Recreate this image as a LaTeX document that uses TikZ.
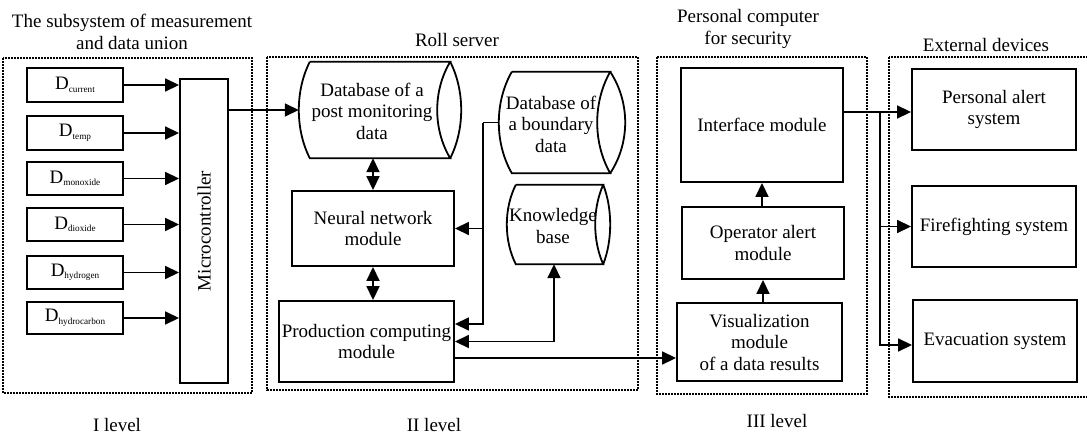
\documentclass[tikz,border=0pt]{standalone}
\usepackage{fontspec}
\setmainfont{Liberation Serif}
\usetikzlibrary{arrows.meta,calc}
\newcommand\fs{\fontsize{19}{21.5}\selectfont}
\newcommand\subtx[1]{\raisebox{-2.5pt}{\fontsize{9.2}{10}\selectfont #1}}
\tikzset{
  box/.style={draw, line width=1.9pt, inner sep=0pt, align=center, font=\fs},
  body/.style={inner sep=0pt},
  txt/.style={inner sep=0pt, align=center, font=\fs},
  grp/.style={line width=1.6pt, dash pattern=on 1.6pt off 1.4pt},
  shp/.style={line width=1.8pt},
  ln/.style={line width=1.7pt},
  arr/.style={line width=1.7pt, -{Triangle[length=14pt,width=13pt]}},
  darr/.style={line width=1.7pt, {Triangle[length=14pt,width=13pt]}-{Triangle[length=14pt,width=13pt]}},
}
% #1 name, #2 half height, #3 left bulge, #4 inner bulge, #5 outer bulge
\newcommand\storedshape[5]{%
  \draw[shp] (#1.north west) -- (#1.north east)
    .. controls +({-1.333*#4},{0.6*#2}) and +({-1.333*#4},{-0.6*#2}) .. (#1.south east)
    -- (#1.south west)
    .. controls +({-1.333*#3},{-0.6*#2}) and +({-1.333*#3},{0.6*#2}) .. (#1.north west);
  \draw[shp] (#1.north east)
    .. controls +({1.333*#5},{0.6*#2}) and +({1.333*#5},{-0.6*#2}) .. (#1.south east);
}
\begin{document}
\begin{tikzpicture}[x=1pt,y=-1pt]
\useasboundingbox (0,0) rectangle (1087,436);

% group frames
\draw[grp] (3,58) rectangle (252,393);
\draw[grp] (267,57) rectangle (638,390);
\draw[grp] (657,57) rectangle (867,394);
\draw[grp] (889,57) rectangle (1100,397);

% titles
\node[txt] (t1) at (132,32) {The subsystem of measurement\\and data union};
\node[txt] (t2) at (457,40) {Roll server};
\node[txt] (t3) at (748,29) {Personal computer\\for security};
\node[txt] (t4) at (986,45) {External devices};
\node[txt] (l1) at (117,425) {I level};
\node[txt] (l2) at (434,425) {II level};
\node[txt] (l3) at (777,421) {III level};

% level I
\node[box, minimum width=96pt, minimum height=34pt] (s1) at (75,85) {D\subtx{current}};
\node[box, minimum width=96pt, minimum height=34pt] (s2) at (75,133) {D\subtx{temp}};
\node[box, minimum width=96pt, minimum height=33pt] (s3) at (75,178.5) {D\subtx{monoxide}};
\node[box, minimum width=96pt, minimum height=33pt] (s4) at (75,224.5) {D\subtx{dioxide}};
\node[box, minimum width=96pt, minimum height=33pt] (s5) at (75,272.5) {D\subtx{hydrogen}};
\node[box, minimum width=96pt, minimum height=32pt] (s6) at (75,318) {D\subtx{hydrocarbon}};
\node[box, minimum width=48pt, minimum height=304pt] (mc) at (204,231) {\rotatebox{90}{Microcontroller}};
\foreach \s in {s1,s2,s3,s4,s5,s6}
  \draw[arr] (\s.east) -- (\s.east -| mc.west);

% level II
\node[body, minimum width=140pt, minimum height=96pt] (db1) at (380,110) {};
\storedshape{db1}{48}{11}{13}{11}
\node[txt] (db1t) at (372,111) {Database of a\\post monitoring\\data};

\node[body, minimum width=98pt, minimum height=101pt] (db2) at (561,122.5) {};
\storedshape{db2}{50.5}{13}{13}{15}
\node[txt] (db2t) at (551,124) {Database of\\a boundary\\data};

\node[body, minimum width=87pt, minimum height=79pt] (kb) at (559.5,224.5) {};
\storedshape{kb}{39.5}{9}{8}{7}
\node[txt] (kbt) at (553,226) {Knowledge\\base};

\node[box, minimum width=162pt, minimum height=75pt] (nn) at (373,228.5) {Neural network\\module};
\node[box, minimum width=175pt, minimum height=81pt] (prod) at (366.5,341.5) {Production computing\\module};

\draw[arr] (mc.east |- db1.west) -- ([xshift=-11pt]db1.west);
\draw[darr] (db1.south -| nn.north) -- (nn.north);
\draw[darr] (nn.south) -- (nn.south |- prod.north);
\draw[ln] ([xshift=-13pt]db2.west) -- ++(-16,0) coordinate (jb);
\draw[arr] (jb) |- ([yshift=17.5pt]prod.east);
\draw[arr] (jb |- nn.east) -- (nn.east);
\draw[darr] ([xshift=-5.5pt]kb.south) |- (prod.east);

% level III
\node[box, minimum width=162pt, minimum height=114pt] (iface) at (762,125) {Interface module};
\node[box, minimum width=162pt, minimum height=72pt] (op) at (763,243) {Operator alert\\module};
\node[box, minimum width=165pt, minimum height=78pt] (vis) at (759.5,342) {Visualization\\module\\of a data results};
\draw[arr] ([yshift=-16.5pt]prod.east) -- ([yshift=-16.5pt]prod.east -| vis.west);
\draw[arr] (op.south |- vis.north) -- (op.south);
\draw[arr] (iface.south |- op.north) -- (iface.south);

% external devices
\node[box, minimum width=164pt, minimum height=81pt] (alert) at (994,109.5) {Personal alert\\system};
\node[box, minimum width=164pt, minimum height=81pt] (fire) at (994,226.5) {Firefighting system};
\node[box, minimum width=164pt, minimum height=82pt] (evac) at (995,341) {Evacuation system};
\draw[arr] ([yshift=13pt]iface.east) -- ([yshift=13pt]iface.east -| alert.west);
\coordinate (je) at ($([yshift=13pt]iface.east)+(36,0)$);
\draw[arr] (je) |- ([yshift=-4pt]evac.west);
\draw[arr] (je |- fire.west) -- (fire.west);
\end{tikzpicture}
\end{document}
